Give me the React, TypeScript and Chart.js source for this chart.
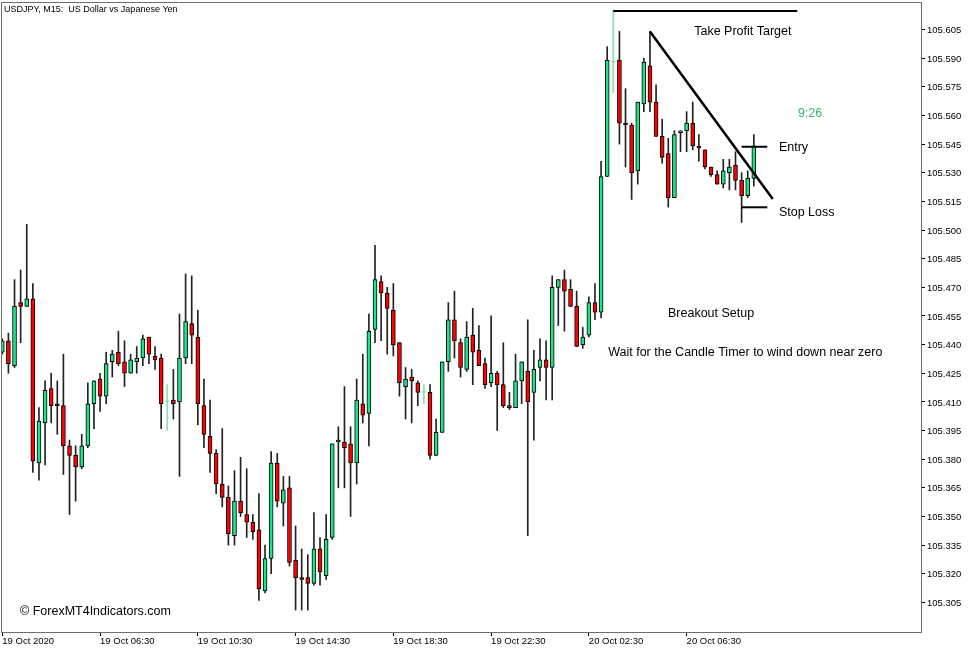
import React, { useEffect, useRef } from "react";
import { Chart, registerables } from "chart.js";

Chart.register(...registerables);

// ---------- data ----------
const chartTitle = "USDJPY, M15:  US Dollar vs Japanese Yen";
const watermark = "\u00A9 ForexMT4Indicators.com";

const opens = [
  105.436, 105.442, 105.429, 105.462, 105.460, 105.464, 105.378, 105.399, 105.417, 105.409,
  105.408, 105.387, 105.382, 105.376, 105.387, 105.409, 105.422, 105.413, 105.431, 105.436,
  105.431, 105.425, 105.431, 105.433, 105.444, 105.434, 105.433, 105.410, 105.411, 105.410,
  105.433, 105.451, 105.444, 105.408, 105.392, 105.383, 105.367, 105.360, 105.340, 105.358,
  105.351, 105.347, 105.343, 105.311, 105.328, 105.378, 105.357, 105.365, 105.327, 105.318,
  105.318, 105.315, 105.333, 105.319, 105.339, 105.389, 105.389, 105.388, 105.378, 105.409,
  105.404, 105.448, 105.473, 105.467, 105.458, 105.441, 105.418, 105.423, 105.420, 105.415,
  105.415, 105.382, 105.394, 105.431, 105.453, 105.441, 105.427, 105.445, 105.437, 105.430,
  105.420, 105.425, 105.419, 105.408, 105.407, 105.421, 105.426, 105.415, 105.428, 105.432,
  105.428, 105.470, 105.474, 105.469, 105.460, 105.440, 105.445, 105.462, 105.457, 105.528,
  105.588, 105.589, 105.556, 105.555, 105.531, 105.566, 105.586, 105.567, 105.549, 105.540,
  105.517, 105.551, 105.552, 105.556, 105.544, 105.542, 105.533, 105.529, 105.524, 105.530,
  105.534, 105.526, 105.518, 105.527,
];
const highs = [
  105.443, 105.446, 105.474, 105.479, 105.503, 105.472, 105.407, 105.421, 105.425, 105.421,
  105.435, 105.390, 105.387, 105.393, 105.420, 105.421, 105.425, 105.436, 105.437, 105.447,
  105.442, 105.435, 105.439, 105.445, 105.444, 105.439, 105.435, 105.419, 105.427, 105.456,
  105.477, 105.476, 105.458, 105.422, 105.411, 105.385, 105.396, 105.366, 105.374, 105.381,
  105.375, 105.351, 105.362, 105.335, 105.384, 105.383, 105.371, 105.371, 105.345, 105.333,
  105.330, 105.352, 105.339, 105.351, 105.388, 105.397, 105.418, 105.397, 105.422, 105.435,
  105.456, 105.492, 105.476, 105.470, 105.472, 105.441, 105.428, 105.427, 105.421, 105.419,
  105.419, 105.401, 105.431, 105.462, 105.468, 105.443, 105.452, 105.459, 105.450, 105.433,
  105.455, 105.426, 105.441, 105.415, 105.435, 105.431, 105.453, 105.437, 105.443, 105.442,
  105.476, 105.474, 105.479, 105.474, 105.468, 105.449, 105.465, 105.472, 105.536, 105.596,
  105.615, 105.604, 105.574, 105.556, 105.567, 105.590, 105.604, 105.576, 105.558, 105.548,
  105.552, 105.552, 105.562, 105.567, 105.550, 105.542, 105.533, 105.531, 105.537, 105.537,
  105.541, 105.530, 105.531, 105.550,
];
const lows = [
  105.435, 105.425, 105.428, 105.441, 105.460, 105.373, 105.369, 105.377, 105.399, 105.393,
  105.372, 105.351, 105.358, 105.375, 105.386, 105.396, 105.405, 105.409, 105.423, 105.429,
  105.418, 105.425, 105.425, 105.429, 105.430, 105.427, 105.396, 105.395, 105.401, 105.371,
  105.430, 105.430, 105.398, 105.386, 105.373, 105.362, 105.355, 105.335, 105.335, 105.350,
  105.339, 105.338, 105.306, 105.310, 105.320, 105.355, 105.345, 105.324, 105.301, 105.301,
  105.301, 105.314, 105.314, 105.317, 105.338, 105.365, 105.365, 105.350, 105.367, 105.399,
  105.387, 105.441, 105.442, 105.435, 105.434, 105.413, 105.401, 105.399, 105.408, 105.409,
  105.380, 105.382, 105.394, 105.426, 105.433, 105.423, 105.426, 105.419, 105.429, 105.417,
  105.418, 105.395, 105.407, 105.406, 105.407, 105.409, 105.340, 105.390, 105.421, 105.411,
  105.411, 105.450, 105.447, 105.460, 105.439, 105.438, 105.444, 105.453, 105.454, 105.528,
  105.572, 105.545, 105.533, 105.516, 105.524, 105.562, 105.562, 105.549, 105.535, 105.512,
  105.517, 105.541, 105.541, 105.542, 105.536, 105.532, 105.528, 105.524, 105.522, 105.521,
  105.521, 105.504, 105.517, 105.523,
];
const closes = [
  105.442, 105.430, 105.460, 105.460, 105.464, 105.379, 105.400, 105.416, 105.408, 105.408,
  105.387, 105.382, 105.376, 105.387, 105.409, 105.421, 105.413, 105.430, 105.435, 105.430,
  105.425, 105.432, 105.433, 105.443, 105.435, 105.432, 105.409, 105.410, 105.409, 105.433,
  105.452, 105.445, 105.409, 105.393, 105.383, 105.367, 105.360, 105.341, 105.358, 105.352,
  105.347, 105.342, 105.312, 105.328, 105.378, 105.358, 105.364, 105.326, 105.318, 105.317,
  105.315, 105.333, 105.321, 105.338, 105.388, 105.390, 105.386, 105.378, 105.411, 105.403,
  105.447, 105.474, 105.467, 105.459, 105.440, 105.420, 105.422, 105.421, 105.415, 105.415,
  105.382, 105.394, 105.431, 105.453, 105.442, 105.428, 105.444, 105.436, 105.429, 105.419,
  105.425, 105.419, 105.408, 105.407, 105.421, 105.431, 105.410, 105.427, 105.432, 105.428,
  105.470, 105.474, 105.468, 105.460, 105.439, 105.444, 105.462, 105.457, 105.528, 105.589,
  105.588, 105.556, 105.555, 105.530, 105.567, 105.588, 105.567, 105.549, 105.538, 105.517,
  105.550, 105.552, 105.556, 105.544, 105.543, 105.533, 105.529, 105.524, 105.531, 105.533,
  105.526, 105.518, 105.527, 105.544,
];

const xTickIndex = [0, 16, 32, 48, 64, 80, 96, 112];
const xTickLabels = [
  "19 Oct 2020", "19 Oct 06:30", "19 Oct 10:30", "19 Oct 14:30",
  "19 Oct 18:30", "19 Oct 22:30", "20 Oct 02:30", "20 Oct 06:30",
];
const yTickValues = [
  105.305, 105.32, 105.335, 105.35, 105.365, 105.38, 105.395, 105.41, 105.425, 105.44,
  105.455, 105.47, 105.485, 105.5, 105.515, 105.53, 105.545, 105.56, 105.575, 105.59, 105.605,
];

// trade setup levels (price / bar index)
const takeProfitLevel = 105.6147;
const takeProfitSpan = [100, 130.1];
const trendStart = [106, 105.6039];
const trendEnd = [126.1, 105.5163];
const entryLevel = 105.5436;
const stopLossLevel = 105.5119;
const levelSpan = [121.0, 125.2];

// on-chart labels: text, bar index, price
const labelTexts = ["Take Profit Target", "9:26", "Entry", "Stop Loss", "Breakout Setup", "Wait for the Candle Timer to wind down near zero"];
const labelIndex = [121.2, 132.2, 127.1, 127.1, 116.0, 121.6];
const labelPrice = [105.6037, 105.5610, 105.5432, 105.5092, 105.4563, 105.4359];

// ---------- style ----------
const FONT = '"Liberation Sans", Arial, sans-serif';
const UP = "#17e68b";
const DOWN = "#ff0000";
const DOJI = "#8fdcb4";
const WICK = "#222222";
const TIMER = "#3cb371";

export default function App() {
  const ref = useRef<HTMLCanvasElement>(null);

  useEffect(() => {
    document.body.style.margin = "0";
    const idx = opens.map((_, i) => i);
    const isDoji = (i: number) => opens[i] === closes[i];
    const bodyColors = idx.map((i) => (isDoji(i) ? DOJI : closes[i] > opens[i] ? UP : DOWN));
    const bodyBorders = idx.map((i) => (isDoji(i) ? DOJI : "#000000"));
    const wickColors = idx.map((i) => (isDoji(i) ? DOJI : WICK));

    const overlay = {
      id: "overlay",
      beforeDraw(chart: any) {
        const { ctx } = chart;
        ctx.save();
        ctx.fillStyle = "#ffffff";
        ctx.fillRect(0, 0, chart.width, chart.height);
        ctx.restore();
      },
      afterDraw(chart: any) {
        const { ctx, chartArea, scales } = chart;
        const xs = scales.x;
        const ys = scales.y;
        ctx.save();
        // frame
        ctx.strokeStyle = "#6e6e6e";
        ctx.lineWidth = 1;
        ctx.strokeRect(
          chartArea.left + 0.5,
          chartArea.top + 0.5,
          chartArea.right - chartArea.left,
          chartArea.bottom - chartArea.top
        );
        // title
        ctx.fillStyle = "#000000";
        ctx.font = `9px ${FONT}`;
        ctx.textAlign = "left";
        ctx.textBaseline = "middle";
        ctx.fillText(chartTitle, chartArea.left + 3, chartArea.top + 8);
        // watermark
        ctx.font = `12.5px ${FONT}`;
        ctx.fillText(watermark, chartArea.left + 19, chartArea.bottom - 20);
        // labels
        labelTexts.forEach((t, k) => {
          const px = xs.getPixelForValue(labelIndex[k]);
          const py = ys.getPixelForValue(labelPrice[k]);
          ctx.font = `12.5px ${FONT}`;
          ctx.fillStyle = t === "9:26" ? TIMER : "#000000";
          ctx.textAlign = t === "Entry" || t === "Stop Loss" ? "left" : "center";
          ctx.textBaseline = "middle";
          ctx.fillText(t, px, py);
        });
        ctx.restore();
      },
    };

    const lineStyle = (w: number) => ({
      type: "line" as const,
      borderColor: "#000000",
      borderWidth: w,
      pointRadius: 0,
      fill: false,
      order: 0,
    });

    const chart = new Chart(ref.current as HTMLCanvasElement, {
      type: "bar",
      data: {
        datasets: [
          {
            ...lineStyle(2),
            label: "Take Profit",
            data: takeProfitSpan.map((x) => ({ x, y: takeProfitLevel })),
          } as any,
          {
            ...lineStyle(2.5),
            label: "Trend line",
            data: [
              { x: trendStart[0], y: trendStart[1] },
              { x: trendEnd[0], y: trendEnd[1] },
            ],
          } as any,
          {
            ...lineStyle(2),
            label: "Entry",
            data: levelSpan.map((x) => ({ x, y: entryLevel })),
          } as any,
          {
            ...lineStyle(2),
            label: "Stop Loss",
            data: levelSpan.map((x) => ({ x, y: stopLossLevel })),
          } as any,
          {
            type: "bar",
            label: "Bodies",
            data: idx.map((i) => ({ x: i, y: [opens[i], closes[i]] })),
            backgroundColor: bodyColors,
            borderColor: bodyBorders,
            borderWidth: 1,
            borderSkipped: false,
            barThickness: 4,
            minBarLength: 1,
            grouped: false,
            order: 1,
          } as any,
          {
            type: "bar",
            label: "Wicks",
            data: idx.map((i) => ({ x: i, y: [lows[i], highs[i]] })),
            backgroundColor: wickColors,
            borderWidth: 0,
            barThickness: 1,
            grouped: false,
            order: 2,
          } as any,
        ],
      },
      options: {
        responsive: false,
        animation: false,
        devicePixelRatio: 1,
        layout: { padding: { left: 1, top: 2, right: 0, bottom: 0 } },
        plugins: { legend: { display: false }, tooltip: { enabled: false } },
        scales: {
          x: {
            type: "linear",
            position: "bottom",
            offset: false,
            min: -0.213,
            max: 150.36,
            afterFit: (s: any) => {
              s.height = 20;
              s.paddingLeft = 0;
              s.paddingRight = 0;
            },
            afterBuildTicks: (s: any) => {
              s.ticks = xTickIndex.map((v) => ({ value: v }));
            },
            grid: { offset: false, drawOnChartArea: false, drawTicks: true, tickLength: 4, color: "#000000" },
            border: { display: false },
            ticks: {
              autoSkip: false,
              maxRotation: 0,
              minRotation: 0,
              align: "start",
              padding: 0,
              color: "#000000",
              font: { family: FONT, size: 9.5 },
              callback: (v: any) => {
                const k = xTickIndex.indexOf(Number(v));
                return k >= 0 ? xTickLabels[k] : "";
              },
            },
          },
          y: {
            type: "linear",
            position: "right",
            min: 105.2895,
            max: 105.6194,
            afterFit: (s: any) => {
              s.width = 56;
              s.paddingTop = 0;
              s.paddingBottom = 0;
            },
            afterBuildTicks: (s: any) => {
              s.ticks = yTickValues.map((v) => ({ value: v }));
            },
            grid: { drawOnChartArea: false, drawTicks: true, tickLength: 4, color: "#000000" },
            border: { display: false },
            ticks: {
              padding: 2,
              labelOffset: 1,
              color: "#000000",
              font: { family: FONT, size: 9.5 },
              callback: (v: any) => Number(v).toFixed(3),
            },
          },
        },
      } as any,
      plugins: [overlay],
    });
    return () => chart.destroy();
  }, []);

  return (
    <canvas
      ref={ref}
      width={977}
      height={652}
      style={{ display: "block", width: 977, height: 652 }}
    />
  );
}
